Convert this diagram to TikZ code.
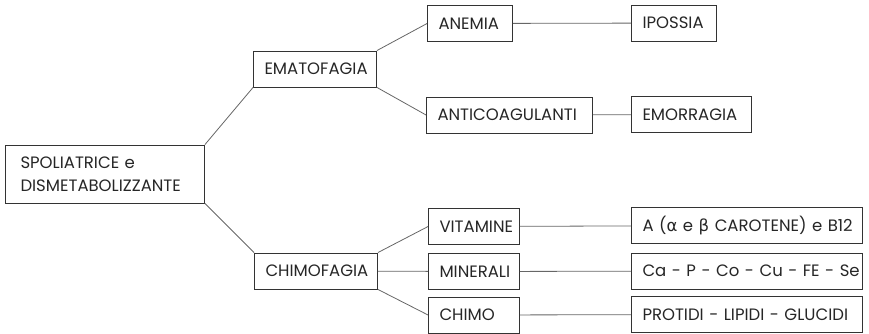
\documentclass[tikz,border=0pt]{standalone}
\usepackage{fontspec}
\setmainfont{Poppins}[WordSpace=0.75]
\newfontfamily\greekfont{DejaVu Sans}
\tikzstyle{box}=[
	rectangle,
	draw=black!80,
	line width=0.9pt,
	text=black!85,
	inner xsep=11pt,
	inner ysep=0pt,
	minimum height=36pt,
	align=left,
	font=\fontsize{16.5}{23}\selectfont
]
\tikzstyle{link}=[
	draw=black!60,
	line width=0.8pt
]

\begin{document}
\begin{tikzpicture}[x=1pt,y=-1pt]
\useasboundingbox (0,0) rectangle (869,334);
\node [box, inner xsep=15pt, text width=169pt, minimum height=58pt] (Spoliatrice) at (105,174) {SPOLIATRICE e\\DISMETABOLIZZANTE};
% ematofagia branch
\node [box, text width=101pt] (Ematofagia) at (315,69) {EMATOFAGIA};
\node [box, text width=63pt] (Anemia) at (470,23.5) {ANEMIA};
\node [box, text width=144pt] (Anticoagulanti) at (509.5,115) {ANTICOAGULANTI};
\node [box, text width=63pt] (Ipossia) at (674,23) {IPOSSIA}
	edge [link] (Anemia);
\node [box, text width=98pt] (Emorragia) at (691.5,114.5) {EMORRAGIA}
	edge [link] (Anticoagulanti);
% chimofagia branch
\node [box, text width=101pt] (Chimofagia) at (316,271) {CHIMOFAGIA};
\node [box, text width=69pt] (Vitamine) at (474,226.5) {VITAMINE};
\node [box, text width=69pt] (Minerali) at (474,271.5) {MINERALI}
	edge [link] (Chimofagia);
\node [box, text width=69pt] (Chimo) at (474,315) {CHIMO};
\node [box, text width=209pt] (Carotene) at (747,225.5) {\mbox{A ({\greekfont α} e {\greekfont β} CAROTENE) e B12}}
	edge [link] (Vitamine);
\node [box, text width=209pt] (Sali) at (747,271) {\mbox{Ca - P - Co - Cu - FE - Se}}
	edge [link] (Minerali);
\node [box, text width=209pt] (Nutrienti) at (747,314.5) {\mbox{PROTIDI - LIPIDI - GLUCIDI}}
	edge [link] (Chimo);
\draw [link] (Spoliatrice.north east) -- (Ematofagia.south west);
\draw [link] (Spoliatrice.south east) -- (Chimofagia.north west);
\draw [link] (Ematofagia.north east) -- (Anemia.west);
\draw [link] (Ematofagia.south east) -- (Anticoagulanti.west);
\draw [link] (Chimofagia.north east) -- (Vitamine.west);
\draw [link] (Chimofagia.south east) -- (Chimo.west);
\end{tikzpicture}
\end{document}
